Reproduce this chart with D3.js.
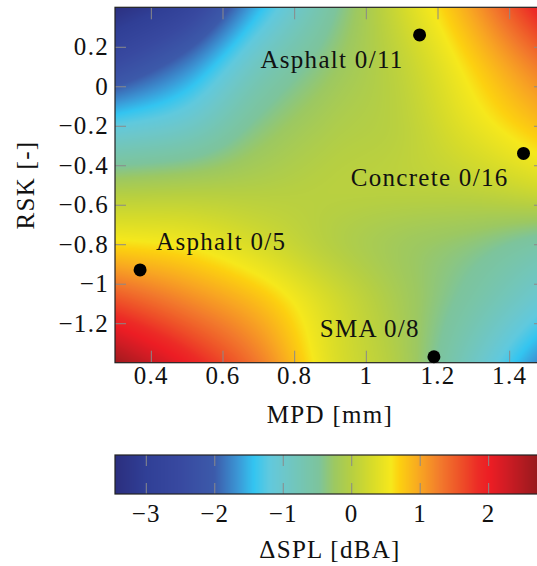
<!DOCTYPE html>
<html>
<head>
<meta charset="utf-8">
<script src="https://cdn.jsdelivr.net/npm/d3@7"></script>
<style>
  html, body { margin: 0; padding: 0; background: #fff; overflow: hidden; }
  svg { display: block; }
  text { font-family: "Liberation Serif", "Times New Roman", serif; fill: #111; letter-spacing: 1.3px; }
</style>
</head>
<body>
<svg id="chart" width="560" height="566"></svg>
<script>
// ΔSPL surface sampled on a regular MPD × RSK grid (rows: RSK, columns: MPD)
const mpdNodes = [0.3, 0.5, 0.7, 0.9, 1.1, 1.3, 1.5];
const rskNodes = [0.4, 0.1, -0.2, -0.5, -0.8, -1.1, -1.4];
const dSplGrid = [
  [-3.4,  -2.75, -1.5,  -0.55,  0.25,  1.05,  2.05],
  [-2.4,  -1.75, -0.85, -0.3,   0.1,   0.7,   1.35],
  [-1.2,  -0.95, -0.4,  -0.1,   0.05,  0.45,  0.85],
  [-0.15, -0.1,  -0.05,  0.02,  0.05,  0.12,  0.3 ],
  [ 0.65,  0.55,  0.3,   0.0,  -0.2,  -0.35, -0.6 ],
  [ 1.65,  1.25,  0.85,  0.3,  -0.15, -0.6,  -1.15],
  [ 2.65,  2.0,   1.3,   0.4,  -0.1,  -0.9,  -1.8 ]
];

// Measured road surfaces
const surfaceNames = ["Asphalt 0/11", "Concrete 0/16", "Asphalt 0/5", "SMA 0/8"];
const surfaceMpd   = [1.15, 1.44, 0.37, 1.19];
const surfaceRsk   = [0.26, -0.34, -0.93, -1.37];

// Axis ticks and ranges
const mpdDomain = [0.3, 1.5];
const rskDomain = [-1.4, 0.4];
const splDomain = [-3.45, 2.83];
const mpdTicks = [0.4, 0.6, 0.8, 1, 1.2, 1.4];
const rskTicks = [0.2, 0, -0.2, -0.4, -0.6, -0.8, -1, -1.2];
const splTicks = [-3, -2, -1, 0, 1, 2];

// Colour map (value → colour stops)
const cmapValues = [-3.45, -3, -2.5, -2, -1.65, -1.42, -1.2, -1, -0.47, -0.25, 0, 0.29, 0.58, 0.7, 1, 1.3, 1.6, 1.85, 2.03, 2.25, 2.83];
const cmapColors = ["#2b2e7e", "#303f96", "#3849a0", "#3c5aaa", "#3b98d6", "#33c5f1", "#60c9de", "#6cc7cc",
                    "#7dc49c", "#9cc862", "#b6cf42", "#d6db2a", "#f6e81c", "#fcd110", "#f8a622", "#f27a2c",
                    "#ee5028", "#ec2c26", "#ec1d24", "#d21c24", "#8a191c"];

// Label placement relative to each point
const labelLayout = [
  { anchor: "end",   dx: -16, dy: 33 },
  { anchor: "end",   dx: -15, dy: 33 },
  { anchor: "start", dx: 16,  dy: -20 },
  { anchor: "end",   dx: -14, dy: -20 }
];

const svg = d3.select("#chart");
const plot = { left: 115, top: 7.3, right: 545, bottom: 362.7 };
const bar = { left: 115, top: 455, right: 545, bottom: 494 };
const fontSize = 25;

const x = d3.scaleLinear().domain(mpdDomain).range([plot.left, plot.right]);
const y = d3.scaleLinear().domain(rskDomain).range([plot.bottom, plot.top]);
const cb = d3.scaleLinear().domain(splDomain).range([bar.left, bar.right]);
const color = d3.scaleLinear().domain(cmapValues).range(cmapColors).interpolate(d3.interpolateRgb).clamp(true);
const fmt = d3.format("~g");

// Lookup table for fast pixel colouring
const LUT_N = 2048;
const lut = d3.range(LUT_N).map(k => d3.rgb(color(splDomain[0] + (splDomain[1] - splDomain[0]) * k / (LUT_N - 1))));
function rgbOf(v) {
  let k = Math.round((v - splDomain[0]) / (splDomain[1] - splDomain[0]) * (LUT_N - 1));
  k = Math.max(0, Math.min(LUT_N - 1, k));
  return lut[k];
}

// Smooth (Catmull-Rom) evaluation of the gridded surface
const nx = mpdNodes.length, ny = rskNodes.length;
const colIdx = d3.scaleLinear().domain(mpdNodes).range(d3.range(nx));
const rowIdx = d3.scaleLinear().domain(rskNodes).range(d3.range(ny));
function node(i, j) {
  if (j < 0) return 2 * node(i, 0) - node(i, 1);
  if (j >= nx) return 2 * node(i, nx - 1) - node(i, nx - 2);
  if (i < 0) return 2 * node(0, j) - node(1, j);
  if (i >= ny) return 2 * node(ny - 1, j) - node(ny - 2, j);
  return dSplGrid[i][j];
}
function cr(p0, p1, p2, p3, t) {
  return 0.5 * (2 * p1 + (-p0 + p2) * t + (2 * p0 - 5 * p1 + 4 * p2 - p3) * t * t + (-p0 + 3 * p1 - 3 * p2 + p3) * t * t * t);
}
function surface(m, r) {
  const fx = colIdx(m), fy = rowIdx(r);
  const j = Math.max(0, Math.min(nx - 2, Math.floor(fx)));
  const i = Math.max(0, Math.min(ny - 2, Math.floor(fy)));
  const tx = fx - j, ty = fy - i;
  const rows = [-1, 0, 1, 2].map(d => cr(node(i + d, j - 1), node(i + d, j), node(i + d, j + 1), node(i + d, j + 2), tx));
  return cr(rows[0], rows[1], rows[2], rows[3], ty);
}

// Heat map raster
function rasterize(w, h, valueAt) {
  const canvas = document.createElement("canvas");
  canvas.width = w; canvas.height = h;
  const ctx = canvas.getContext("2d");
  const img = ctx.createImageData(w, h);
  for (let py = 0; py < h; py++) {
    for (let px = 0; px < w; px++) {
      const c = rgbOf(valueAt(px, py));
      const o = (py * w + px) * 4;
      img.data[o] = c.r; img.data[o + 1] = c.g; img.data[o + 2] = c.b; img.data[o + 3] = 255;
    }
  }
  ctx.putImageData(img, 0, 0);
  return canvas.toDataURL();
}

const pw = Math.round(plot.right - plot.left), ph = Math.round(plot.bottom - plot.top);
svg.append("image")
  .attr("x", plot.left).attr("y", plot.top)
  .attr("width", plot.right - plot.left).attr("height", plot.bottom - plot.top)
  .attr("preserveAspectRatio", "none")
  .attr("href", rasterize(pw, ph, (px, py) => {
    const m = x.invert(plot.left + (px + 0.5) * (plot.right - plot.left) / pw);
    const r = y.invert(plot.top + (py + 0.5) * (plot.bottom - plot.top) / ph);
    return surface(m, r);
  }));

// Plot ticks (inward on all sides)
function styleAxis(g) {
  g.select(".domain").remove();
  g.selectAll(".tick line").attr("stroke", "#8a8a8a").attr("stroke-width", 1);
  g.selectAll(".tick text").attr("font-size", fontSize).attr("fill", "#111")
    .style("font-family", "'Liberation Serif', serif");
}
svg.append("g").attr("transform", `translate(0,${plot.bottom})`)
  .call(d3.axisBottom(x).tickValues(mpdTicks).tickSizeInner(-12).tickSizeOuter(0).tickPadding(4).tickFormat(fmt))
  .call(styleAxis);
svg.append("g").attr("transform", `translate(0,${plot.top})`)
  .call(d3.axisTop(x).tickValues(mpdTicks).tickSizeInner(-12).tickSizeOuter(0).tickFormat(""))
  .call(styleAxis);
svg.append("g").attr("transform", `translate(${plot.left},0)`)
  .call(d3.axisLeft(y).tickValues(rskTicks).tickSizeInner(-11).tickSizeOuter(0).tickPadding(6).tickFormat(fmt))
  .call(styleAxis);
svg.append("g").attr("transform", `translate(${plot.right},0)`)
  .call(d3.axisRight(y).tickValues(rskTicks).tickSizeInner(-11).tickSizeOuter(0).tickFormat(""))
  .call(styleAxis);

svg.append("rect")
  .attr("x", plot.left).attr("y", plot.top)
  .attr("width", plot.right - plot.left).attr("height", plot.bottom - plot.top)
  .attr("fill", "none").attr("stroke", "#222").attr("stroke-width", 1.2);

// Road surface points and labels
const pts = surfaceNames.map((name, k) => ({ name, mpd: surfaceMpd[k], rsk: surfaceRsk[k], lay: labelLayout[k] }));
svg.append("g").selectAll("circle").data(pts).join("circle")
  .attr("cx", d => x(d.mpd)).attr("cy", d => y(d.rsk)).attr("r", 6.5).attr("fill", "#000");
svg.append("g").selectAll("text").data(pts).join("text")
  .attr("x", d => x(d.mpd) + d.lay.dx).attr("y", d => y(d.rsk) + d.lay.dy)
  .attr("text-anchor", d => d.lay.anchor).attr("font-size", fontSize)
  .text(d => d.name);

// Axis titles
svg.append("text").attr("x", (plot.left + plot.right) / 2).attr("y", 423)
  .attr("text-anchor", "middle").attr("font-size", fontSize).text("MPD [mm]");
svg.append("text").attr("transform", `translate(34,${(plot.top + plot.bottom) / 2}) rotate(-90)`)
  .attr("text-anchor", "middle").attr("font-size", fontSize).text("RSK [-]");

// Colour bar
const bw = Math.round(bar.right - bar.left), bh = Math.round(bar.bottom - bar.top);
svg.append("image")
  .attr("x", bar.left).attr("y", bar.top)
  .attr("width", bar.right - bar.left).attr("height", bar.bottom - bar.top)
  .attr("preserveAspectRatio", "none")
  .attr("href", rasterize(bw, bh, (px) => cb.invert(bar.left + (px + 0.5) * (bar.right - bar.left) / bw)));

svg.append("g").attr("transform", `translate(0,${bar.bottom})`)
  .call(d3.axisBottom(cb).tickValues(splTicks).tickSizeInner(-11).tickSizeOuter(0).tickPadding(10).tickFormat(fmt))
  .call(styleAxis);
svg.append("g").attr("transform", `translate(0,${bar.top})`)
  .call(d3.axisTop(cb).tickValues(splTicks).tickSizeInner(-11).tickSizeOuter(0).tickFormat(""))
  .call(styleAxis);
svg.append("rect")
  .attr("x", bar.left).attr("y", bar.top)
  .attr("width", bar.right - bar.left).attr("height", bar.bottom - bar.top)
  .attr("fill", "none").attr("stroke", "#222").attr("stroke-width", 1.2);

svg.append("text").attr("x", (bar.left + bar.right) / 2).attr("y", 558)
  .attr("text-anchor", "middle").attr("font-size", fontSize).text("ΔSPL [dBA]");
</script>
</body>
</html>
